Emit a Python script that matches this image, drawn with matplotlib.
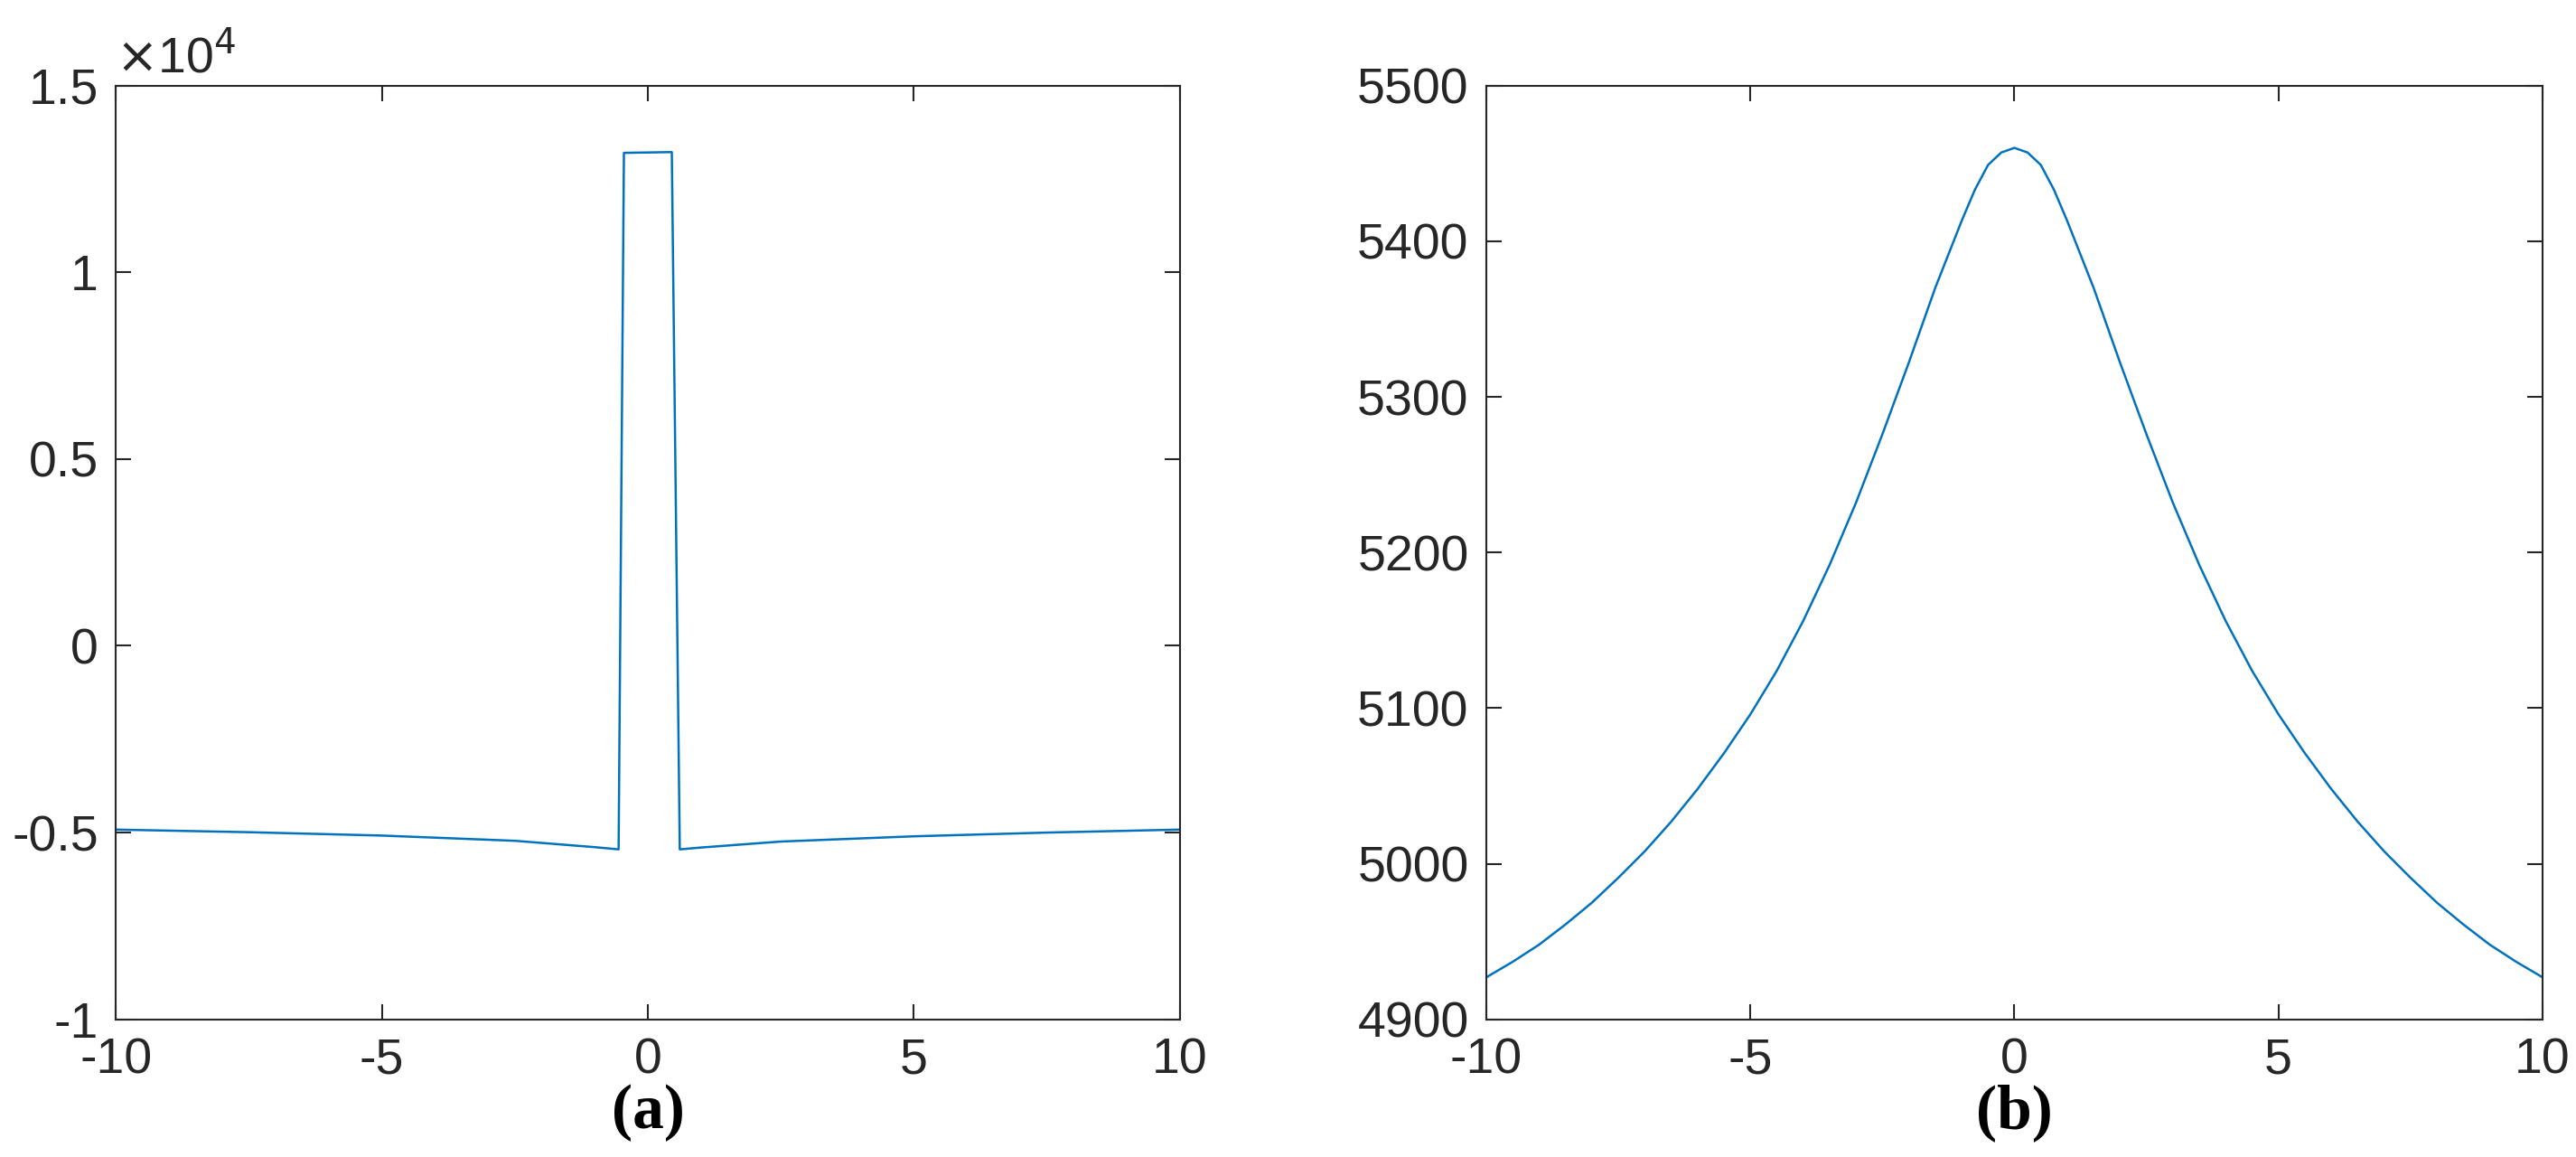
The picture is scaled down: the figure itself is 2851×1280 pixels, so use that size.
import matplotlib
matplotlib.use('Agg')
import matplotlib.pyplot as plt
import numpy as np

# (a) piecewise curve with narrow spike
xa = [-10, -7.5, -5, -2.5, -1, -0.55, -0.45, 0.45, 0.6, 1, 2.5, 5, 7.5, 10]
ya = [-4920, -4990, -5080, -5220, -5390, -5450, 13200, 13220, -5450, -5400, -5240, -5100, -5000, -4920]

# (b) smooth peak
xb = [-10, -9.5, -9, -8.5, -8, -7.5, -7, -6.5, -6, -5.5, -5, -4.5, -4, -3.5, -3, -2.5, -2, -1.5, -1,
      -0.75, -0.5, -0.25, 0,
      0.25, 0.5, 0.75, 1, 1.5, 2, 2.5, 3, 3.5, 4, 4.5, 5, 5.5, 6, 6.5, 7, 7.5, 8, 8.5, 9, 9.5, 10]
yb_half = [4927, 4937, 4948, 4961, 4975, 4991, 5008, 5027, 5048, 5071, 5096, 5124, 5156, 5192, 5232, 5276,
           5322, 5370, 5413, 5433, 5449, 5457]
yb = yb_half + [5460] + yb_half[::-1]

plt.rcParams['font.family'] = ['Liberation Sans', 'DejaVu Sans']
plt.rcParams['axes.unicode_minus'] = False
blue = '#0072BD'

fig = plt.figure(figsize=(28.51, 12.8), dpi=100)
ax1 = fig.add_axes([0.045, 0.119, 0.413, 0.807])
ax2 = fig.add_axes([0.577, 0.119, 0.410, 0.807])

ax1.plot(xa, ya, color=blue, lw=1.8)
ax1.set_xlim(-10, 10)
ax1.set_ylim(-10000, 15000)
ax1.set_yticks([-10000, -5000, 0, 5000, 10000, 15000])
ax1.set_yticklabels(['-1', '-0.5', '0', '0.5', '1', '1.5'])
ax1.text(0.0, 1.003, r'$\times$10$^4$', transform=ax1.transAxes, fontsize=40, va='bottom', ha='left',
         color='#262626')

ax2.plot(xb, yb, color=blue, lw=1.8)
ax2.set_xlim(-10, 10)
ax2.set_ylim(4900, 5500)
ax2.set_yticks(range(4900, 5501, 100))

for ax in (ax1, ax2):
    ax.set_xticks([-10, -5, 0, 5, 10])
    ax.tick_params(direction='in', top=True, right=True, length=12, width=1.5,
                   labelsize=40, colors='#262626', pad=14)
    for s in ax.spines.values():
        s.set_linewidth(1.5)
        s.set_color('#262626')

fig.text(0.2515, 0.025, '(a)', fontsize=50, ha='center', family='Liberation Serif', weight='bold')
fig.text(0.782, 0.025, '(b)', fontsize=50, ha='center', family='Liberation Serif', weight='bold')

fig.savefig('out.png', dpi=100)
